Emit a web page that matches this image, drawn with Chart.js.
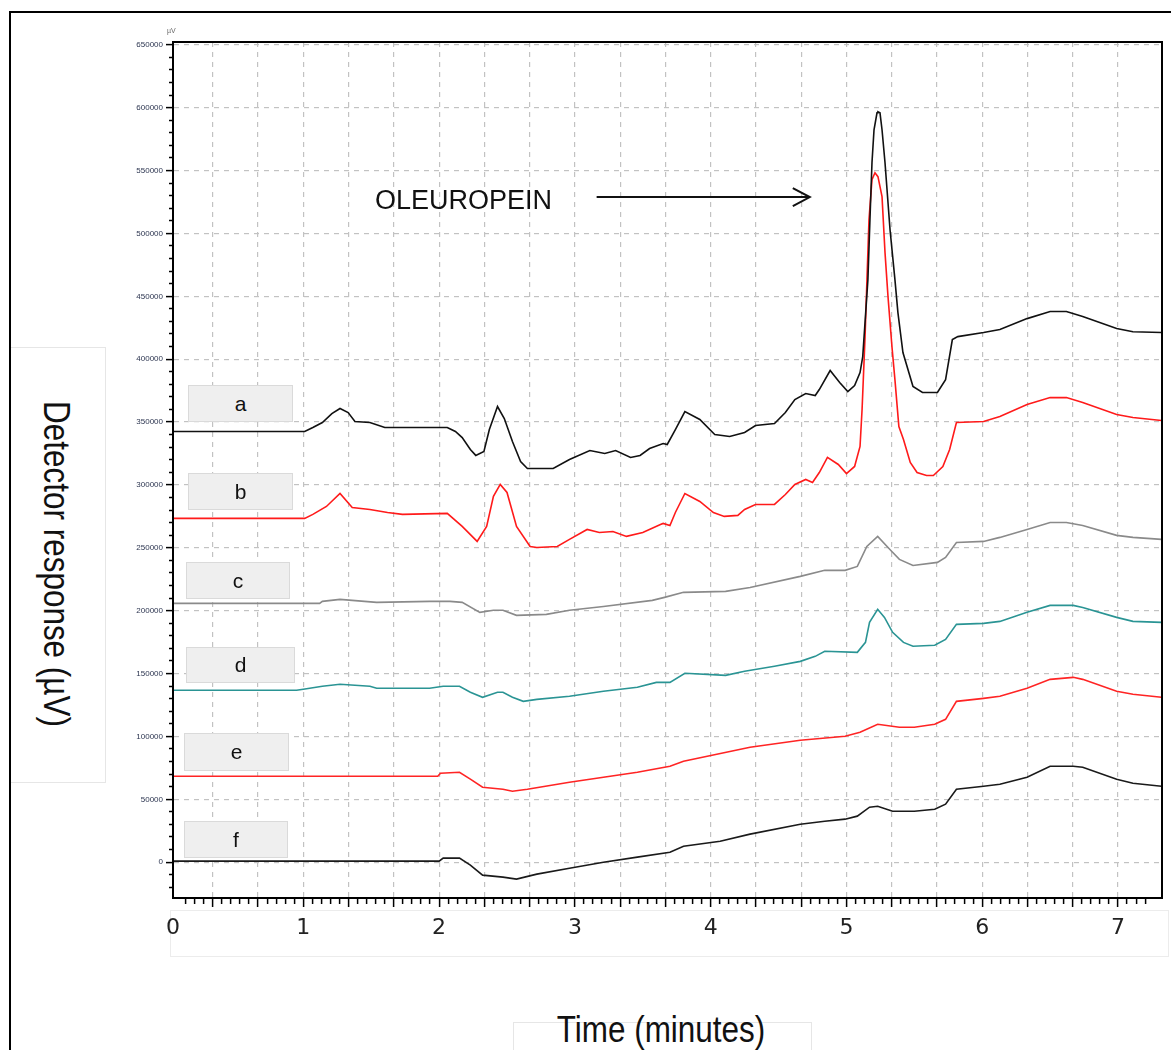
<!DOCTYPE html>
<html>
<head>
<meta charset="utf-8">
<title>Oleuropein chromatograms</title>
<script src="https://cdn.jsdelivr.net/npm/chart.js@4.4.1/dist/chart.umd.min.js"></script>
<style>
  html, body { margin: 0; padding: 0; background: #fff; }
  body { width: 1171px; height: 1050px; position: relative; overflow: hidden; font-family: "Liberation Sans", Arial, sans-serif; }
  .frame { position: absolute; left: 9px; top: 11px; width: 1170px; height: 1050px; border-left: 2px solid #000; border-top: 2px solid #000; }
  .ybox { position: absolute; left: 11px; top: 347px; width: 94px; height: 434px; border: 1px solid #e6e6e6; border-left: none; }
  .xbox { position: absolute; left: 513px; top: 1022px; width: 297px; height: 40px; border: 1px solid #e6e6e6; }
  .tickbox { position: absolute; left: 170px; top: 910px; width: 997px; height: 45px; border: 1px solid #ececec; }
  .ytitle { position: absolute; left: 56px; top: 564px; white-space: nowrap; font-size: 37px; color: #111;
            transform: translate(-50%, -50%) rotate(90deg) scaleX(0.85); }
  .xtitle { position: absolute; left: 661px; top: 1030px; white-space: nowrap; font-size: 37px; color: #111;
            transform: translate(-50%, -50%) scaleX(0.85); }
  .unit { position: absolute; left: 167px; top: 27px; font-size: 7px; color: #666; }
  .peak { position: absolute; left: 375px; top: 185px; line-height: 30px; font-size: 27px; color: #111; }
  .tag { position: absolute; background: #efefef; border: 1px solid #dadada; box-sizing: border-box;
         text-align: center; font-size: 21px; color: #111; }
  canvas { position: absolute; left: 0; top: 0; }
</style>
</head>
<body>
<div class="frame"></div>
<div class="ybox"></div>
<div class="xbox"></div>
<div class="tickbox"></div>
<div class="ytitle">Detector response (µV)</div>
<div class="xtitle">Time (minutes)</div>
<canvas id="grafico" width="1171" height="1050"></canvas>
<div class="unit">µV</div>
<div class="peak">OLEUROPEIN</div>
<div class="tag" style="left:188px;top:385px;width:105px;height:37px;line-height:35px;">a</div>
<div class="tag" style="left:188px;top:473px;width:105px;height:37px;line-height:35px;">b</div>
<div class="tag" style="left:186px;top:562px;width:104px;height:37px;line-height:35px;">c</div>
<div class="tag" style="left:186px;top:647px;width:109px;height:36px;line-height:34px;">d</div>
<div class="tag" style="left:184px;top:733px;width:105px;height:38px;line-height:36px;">e</div>
<div class="tag" style="left:184px;top:821px;width:104px;height:37px;line-height:35px;">f</div>
<script>
const aTime = [0.04,1.01,1.07,1.14,1.21,1.27,1.33,1.38,1.49,1.60,2.06,2.12,2.17,2.23,2.27,2.33,2.37,2.43,2.48,2.54,2.60,2.65,2.84,2.96,3.11,3.22,3.30,3.41,3.48,3.55,3.65,3.68,3.74,3.81,3.92,4.03,4.14,4.25,4.33,4.47,4.55,4.62,4.70,4.77,4.80,4.88,4.95,5.01,5.06,5.10,5.12,5.158,5.173,5.188,5.203,5.225,5.232,5.247,5.262,5.284,5.321,5.357,5.379,5.416,5.49,5.56,5.67,5.73,5.78,5.82,6.01,6.13,6.33,6.50,6.62,6.74,6.99,7.11,7.32];
const aVals = [342500,342500,345700,349700,356800,360800,357600,350500,349700,345700,345700,342500,337700,328200,323500,326600,344100,362400,352800,334600,318700,313100,313100,320300,327400,325000,327400,321900,323500,329000,333000,332200,344100,358400,352100,340100,338500,341700,347300,348900,357600,367900,372700,371100,375900,391000,381500,374300,379100,389400,402100,463300,511000,556300,582500,596000,596800,596000,582500,556300,503000,463300,437100,405300,378300,373500,373500,383800,415600,418000,421200,423600,432300,437900,437900,433900,424400,421900,421200];

const bTime = [0.04,1.01,1.07,1.17,1.27,1.36,1.49,1.62,1.73,2.06,2.17,2.28,2.35,2.40,2.45,2.50,2.57,2.67,2.72,2.87,2.96,3.09,3.18,3.28,3.38,3.50,3.63,3.65,3.70,3.74,3.81,3.92,4.02,4.10,4.20,4.25,4.33,4.47,4.55,4.62,4.70,4.75,4.80,4.86,4.94,5.00,5.06,5.10,5.115,5.137,5.151,5.166,5.188,5.21,5.232,5.262,5.284,5.306,5.335,5.357,5.386,5.42,5.47,5.52,5.59,5.64,5.71,5.76,5.81,6.01,6.13,6.33,6.50,6.62,6.74,6.99,7.11,7.32];
const bVals = [273400,273400,276600,282900,293200,282100,280500,278100,276600,277400,267000,255100,267000,290900,300400,294000,267000,251100,250300,251100,256700,264600,262200,263000,259100,262200,268600,269400,267800,278100,293200,286900,278100,275000,275800,280500,284500,284500,292400,300400,304400,302000,309900,321900,316300,309100,314700,330600,360000,418000,463300,511000,542800,548300,545200,529300,484800,449800,410100,383800,346500,336200,317900,309900,307500,307500,314700,328200,349700,350500,354400,364000,369500,369500,365600,356000,353600,351300];

const cTime = [0.04,1.12,1.14,1.27,1.54,1.93,2.08,2.17,2.30,2.40,2.47,2.57,2.79,2.96,3.21,3.57,3.66,3.80,4.11,4.29,4.66,4.84,4.99,5.08,5.15,5.23,5.32,5.39,5.49,5.67,5.73,5.81,6.01,6.13,6.33,6.50,6.62,6.74,6.99,7.11,7.32];
const cVals = [205800,205800,207400,209000,206600,207400,207400,206600,198700,200300,200300,196300,197100,200300,203400,208200,210600,214600,215400,218500,227300,232100,232100,235200,251100,259100,248700,240800,236000,238400,242400,254300,255100,258300,264600,270200,270200,267800,259900,258300,256700];

const dTime = [0.04,0.95,1.00,1.14,1.27,1.49,1.54,1.93,2.03,2.15,2.23,2.32,2.43,2.47,2.54,2.62,2.72,2.96,3.21,3.46,3.60,3.70,3.81,4.11,4.25,4.47,4.66,4.77,4.84,5.08,5.14,5.17,5.23,5.28,5.34,5.42,5.49,5.65,5.73,5.81,6.01,6.13,6.33,6.50,6.67,6.74,6.99,7.11,7.32];
const dVals = [136700,136700,137500,139900,141500,139900,138300,138300,139900,139900,135100,131100,135100,135100,131100,127900,129500,131900,135900,139100,143000,143000,150200,148600,151800,155800,159700,163700,167700,166900,174800,190700,201100,194700,182800,174800,171700,172500,177200,189100,189900,191500,198700,204200,204200,202600,194700,191500,190700];

const eTime = [0.04,1.99,2.01,2.15,2.23,2.32,2.47,2.54,2.65,2.96,3.21,3.46,3.70,3.80,4.29,4.66,4.99,5.10,5.23,5.39,5.50,5.65,5.73,5.81,6.01,6.13,6.33,6.50,6.67,6.74,6.99,7.11,7.32];
const eVals = [68300,68300,70700,71500,66000,59600,58000,56400,58000,63600,67500,71500,76300,80300,91400,97000,100100,103300,109700,107300,107300,109700,113600,127900,130300,131900,138300,145400,147000,145400,135900,133500,131100];

const fTime = [0.04,2.00,2.03,2.15,2.23,2.32,2.47,2.57,2.72,2.96,3.21,3.46,3.70,3.80,4.07,4.29,4.66,4.84,4.99,5.08,5.17,5.23,5.34,5.50,5.65,5.73,5.81,6.01,6.13,6.33,6.50,6.67,6.74,6.99,7.11,7.32];
const fVals = [800,800,3200,3200,-2400,-10300,-11900,-13500,-9500,-4800,0,4000,7900,12700,16700,22300,30200,32600,34200,36600,43700,44500,40500,40500,42100,46100,58000,60400,62000,67500,76300,76300,75500,66000,62800,60400];

const seriesNames = ['a', 'b', 'c', 'd', 'e', 'f'];
const seriesColors = ['#111111', '#ff1a1a', '#8a8a8a', '#2a9494', '#ff2424', '#1a1a1a'];

// Eixos
const tempoMin = 0.04, tempoMax = 7.324;
const respMin = -28500, respMax = 652300;
const respMinorStep = 10000, respMajorStep = 50000;

// Seta do pico
const arrowStart = 3.16, arrowEnd = 4.73, arrowLevel = 529000;

const pares = (t, v) => t.map((x, i) => ({ x: x, y: v[i] }));
const todos = [[aTime, aVals], [bTime, bVals], [cTime, cVals], [dTime, dVals], [eTime, eVals], [fTime, fVals]];

const ehMultiplo = (v, n) => Math.abs(v * n - Math.round(v * n)) < 1e-6;
const ehMaior = v => ehMultiplo(v, 1 / respMajorStep);

const molduraPlugin = {
  id: 'moldura',
  afterDatasetsDraw(chart) {
    const { ctx, chartArea, scales } = chart;
    // seta apontando para o pico
    const x1 = scales.x.getPixelForValue(arrowStart);
    const x2 = scales.x.getPixelForValue(arrowEnd);
    const yy = scales.y.getPixelForValue(arrowLevel);
    ctx.save();
    ctx.strokeStyle = '#111';
    ctx.lineWidth = 2;
    ctx.beginPath();
    ctx.moveTo(x1, yy);
    ctx.lineTo(x2, yy);
    ctx.moveTo(x2 - 17, yy - 9);
    ctx.lineTo(x2, yy);
    ctx.lineTo(x2 - 17, yy + 9);
    ctx.stroke();
    // borda do gráfico
    ctx.lineWidth = 2;
    ctx.strokeStyle = '#000';
    ctx.strokeRect(chartArea.left, chartArea.top, chartArea.right - chartArea.left, chartArea.bottom - chartArea.top);
    ctx.restore();
  }
};

const ctx = document.getElementById('grafico').getContext('2d');
const chart = new Chart(ctx, {
  type: 'line',
  data: {
    datasets: todos.map((s, i) => ({
      label: seriesNames[i],
      data: pares(s[0], s[1]),
      borderColor: seriesColors[i],
      borderWidth: 1.6,
      pointRadius: 0,
      tension: 0,
      fill: false
    }))
  },
  options: {
    responsive: false,
    animation: false,
    devicePixelRatio: 1,
    layout: { padding: { left: 100, top: 42, right: 9, bottom: 92 } },
    plugins: { legend: { display: false }, tooltip: { enabled: false } },
    scales: {
      x: {
        type: 'linear',
        min: tempoMin,
        max: tempoMax,
        afterFit: s => { s.height = 60; },
        border: { display: true, color: '#000', width: 2, dash: [5, 5] },
        grid: {
          color: c => (c.tick && ehMultiplo(c.tick.value, 3)) ? '#c2c2c2' : 'rgba(0,0,0,0)',
          lineWidth: 1.2,
          tickLength: 9,
          tickWidth: 1.5,
          tickColor: c => (c.tick && ehMultiplo(c.tick.value, 15)) ? '#000' : 'rgba(0,0,0,0)',
          tickBorderDash: c => (c.tick && ehMultiplo(c.tick.value, 3)) ? [] : [5, 30]
        },
        ticks: {
          stepSize: 1 / 15,
          autoSkip: false,
          maxRotation: 0,
          minRotation: 0,
          padding: 8,
          color: '#222',
          font: { size: 22, family: '"DejaVu Sans", sans-serif' },
          callback: (v, i) => i === 0 ? '0' : (ehMultiplo(v, 1) ? String(Math.round(v)) : '')
        }
      },
      y: {
        type: 'linear',
        min: respMin,
        max: respMax,
        afterFit: s => { s.width = 73; },
        afterBuildTicks: s => {
          const lista = [];
          for (let v = Math.ceil(respMin / respMinorStep) * respMinorStep; v <= respMax; v += respMinorStep) {
            lista.push({ value: v });
          }
          s.ticks = lista;
        },
        border: { display: true, color: '#000', width: 2, dash: [5, 5] },
        grid: {
          color: c => (c.tick && ehMaior(c.tick.value)) ? '#c2c2c2' : 'rgba(0,0,0,0)',
          lineWidth: 1.2,
          tickLength: 7,
          tickWidth: 1.5,
          tickColor: '#000',
          tickBorderDash: c => (c.tick && ehMaior(c.tick.value)) ? [] : [0, 3, 4, 30]
        },
        ticks: {
          autoSkip: false,
          padding: 3,
          color: '#2c3550',
          font: { size: 8, family: '"Liberation Sans Narrow", "Liberation Sans", sans-serif' },
          callback: v => ehMaior(v) ? String(Math.round(v)) : ''
        }
      }
    }
  },
  plugins: [molduraPlugin]
});
</script>
</body>
</html>
